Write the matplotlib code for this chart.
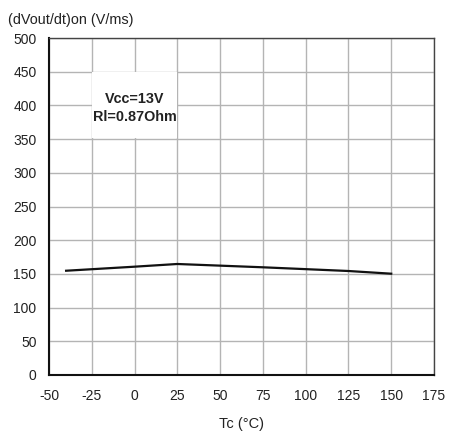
import matplotlib.pyplot as plt

plt.rcParams['font.family'] = ['Liberation Sans', 'DejaVu Sans']
plt.rcParams['axes.unicode_minus'] = False

# slew rate vs case temperature
tc = [-40, 0, 25, 75, 125, 150]
dv_on = [154.7, 160.7, 164.7, 159.8, 154.3, 150.3]

x_ticks = [-50, -25, 0, 25, 50, 75, 100, 125, 150, 175]
y_ticks = [0, 50, 100, 150, 200, 250, 300, 350, 400, 450, 500]

fig = plt.figure(figsize=(4.51, 4.33), dpi=100)
ax = fig.add_axes([49 / 451, 58 / 433, 385 / 451, 337 / 433])

ax.plot(tc, dv_on, color='#111111', lw=1.6, zorder=3)

ax.set_xlim(-50, 175)
ax.set_ylim(0, 500)
ax.set_xticks(x_ticks)
ax.set_yticks(y_ticks)
ax.tick_params(length=0, labelsize=10, colors='#222222')
ax.tick_params(axis='x', pad=10)
ax.tick_params(axis='y', pad=9)
ax.grid(True, color='#b4b4b4', lw=1)
ax.set_axisbelow(True)

for side in ['left', 'bottom']:
    ax.spines[side].set_linewidth(1.5)
    ax.spines[side].set_color('#111111')
for side in ['top', 'right']:
    ax.spines[side].set_linewidth(1.0)
    ax.spines[side].set_color('#444444')

# white label box over the grid
ax.fill_between([-25, 25], 352, 449, color='white', zorder=2, lw=0)
ax.text(0, 396, 'Vcc=13V\nRl=0.87Ohm', ha='center', va='center',
        fontsize=10.4, fontweight='bold', color='#222222', linespacing=1.3, zorder=4)

ax.set_xlabel('Tc (°C)', fontsize=10.5, color='#222222', labelpad=10)
fig.text(8 / 451, 1 - 20 / 433, '(dVout/dt)on (V/ms)', fontsize=10.4,
         color='#222222', ha='left', va='center')

fig.savefig('out.png', dpi=100)
